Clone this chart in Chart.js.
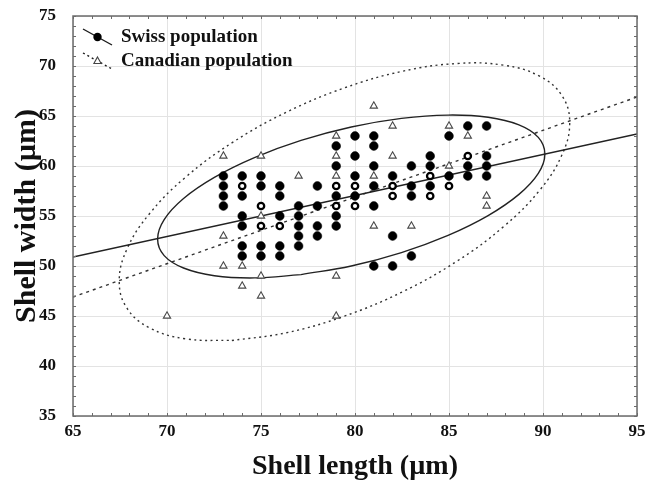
<!DOCTYPE html>
<html>
<head>
<meta charset="utf-8">
<script src="https://cdn.jsdelivr.net/npm/chart.js@4/dist/chart.umd.min.js"></script>
<style>
  html, body { margin: 0; padding: 0; background: #fff; }
  #wrap { width: 664px; height: 484px; }
</style>
</head>
<body>
<div id="wrap"><canvas id="shellChart" width="664" height="484"></canvas></div>
<script>
// Shell length (x) and shell width (y), in µm.
// Widths are grouped by length column.
const swissLengths = [73, 74, 75, 76, 77, 78, 79, 80, 81, 82, 83, 84, 85, 86, 87];
const swissWidths = [
    [59, 58, 57, 56],
    [59, 57, 55, 54, 52, 51],
    [59, 58, 52, 51],
    [58, 57, 55, 52, 51],
    [56, 55, 54, 53, 52],
    [58, 56, 54, 53],
    [62, 60, 57, 55, 54],
    [63, 61, 59, 57],
    [63, 62, 60, 58, 56, 50],
    [59, 53, 50],
    [60, 58, 57, 51],
    [61, 60, 58],
    [63, 59],
    [64, 60, 59],
    [64, 61, 60, 59]
];

const canadianLengths = [70, 73, 74, 75, 77, 79, 81, 82, 83, 85, 86, 87];
const canadianWidths = [
    [45],
    [61, 53, 50],
    [50, 48],
    [61, 55, 49, 47],
    [59],
    [63, 61, 59, 49, 45],
    [66, 59, 54],
    [64, 61],
    [54],
    [64, 60],
    [63],
    [57, 56]
];

// points where both populations coincide (drawn as open rings)
const sharedLengths = [74, 75, 76, 79, 80, 82, 84, 85, 86];
const sharedWidths = [[58], [56, 54], [54], [58, 56], [58, 56], [58, 57], [59, 57], [58], [61]];

// regression lines
const fitLengths = [65, 95];
const swissFitWidths = [50.9, 63.2];
const canadianFitWidths = [46.9, 66.9];

// outlines of the two ellipses as drawn on the figure (start on a flat stretch)
const swissEllipseX = [77.13, 79.8, 82.47, 84.95, 87.08, 88.72, 89.75, 90.1, 89.75, 88.72, 87.08, 84.95, 82.47,
    79.8, 77.13, 74.65, 72.52, 70.88, 69.85, 69.5, 69.85, 70.88, 72.52, 74.65, 77.13];
const swissEllipseY = [49.14, 50.0, 51.34, 53.06, 55.04, 57.16, 59.26, 61.2, 62.86, 64.11, 64.87, 65.09, 64.76,
    63.9, 62.56, 60.84, 58.86, 56.75, 54.64, 52.7, 51.04, 49.8, 49.03, 48.81, 49.14];
const canadianEllipseX = [73.45, 76.34, 79.44, 82.54, 85.43, 87.91, 89.82, 91.01, 91.42, 91.01, 89.82, 87.91, 85.43,
    82.54, 79.44, 76.34, 73.45, 70.97, 69.07, 67.87, 67.46, 67.87, 69.07, 70.97, 73.45];
const canadianEllipseY = [42.55, 43.32, 44.99, 47.43, 50.49, 53.95, 57.57, 61.12, 64.34, 67.03, 68.98, 70.08, 70.25,
    69.48, 67.81, 65.37, 62.31, 58.85, 55.23, 51.69, 48.46, 45.78, 43.82, 42.72, 42.55];

const xTicks = [65, 70, 75, 80, 85, 90, 95];
const yTicks = [35, 40, 45, 50, 55, 60, 65, 70, 75];

const serif = '"Liberation Serif", "Times New Roman", serif';
const ink = '#1a1a1a';

function columnPoints(lengths, widths) {
    const pts = [];
    lengths.forEach((x, i) => widths[i].forEach(y => pts.push({ x: x, y: y })));
    return pts;
}
function pairPoints(xs, ys) {
    return xs.map((x, i) => ({ x: x, y: ys[i] }));
}

// frame round the plot with small inward ticks every unit
const framePlugin = {
    id: 'frame',
    afterDatasetsDraw(chart) {
        const { ctx, chartArea: a, scales } = chart;
        ctx.save();
        ctx.strokeStyle = '#6b6b6b';
        ctx.lineWidth = 1.5;
        ctx.strokeRect(a.left, a.top, a.right - a.left, a.bottom - a.top);
        ctx.lineWidth = 1;
        ctx.beginPath();
        for (let v = scales.x.min; v <= scales.x.max; v++) {
            const px = Math.round(scales.x.getPixelForValue(v)) + 0.5;
            ctx.moveTo(px, a.bottom); ctx.lineTo(px, a.bottom - 3);
            ctx.moveTo(px, a.top); ctx.lineTo(px, a.top + 3);
        }
        for (let v = scales.y.min; v <= scales.y.max; v++) {
            const py = Math.round(scales.y.getPixelForValue(v)) + 0.5;
            ctx.moveTo(a.left, py); ctx.lineTo(a.left + 3, py);
            ctx.moveTo(a.right, py); ctx.lineTo(a.right - 3, py);
        }
        ctx.stroke();
        ctx.restore();
    }
};

// legend inside the plot, with slanted line samples like the original
const legendPlugin = {
    id: 'innerLegend',
    afterDraw(chart) {
        const { ctx, chartArea: a } = chart;
        const ds = chart.data.datasets;
        const rows = [
            { label: ds[0].label, dash: [], marker: 'circle', y: a.top + 21 },
            { label: ds[1].label, dash: [2, 3], marker: 'triangle', y: a.top + 45 }
        ];
        ctx.save();
        rows.forEach(r => {
            const x0 = a.left + 10, x1 = a.left + 39;
            ctx.strokeStyle = ink;
            ctx.lineWidth = 1.4;
            ctx.setLineDash(r.dash);
            ctx.beginPath();
            ctx.moveTo(x0, r.y - 8);
            ctx.lineTo(x1, r.y + 8);
            ctx.stroke();
            ctx.setLineDash([]);
            const mx = (x0 + x1) / 2, my = r.y;
            if (r.marker === 'circle') {
                ctx.fillStyle = '#000';
                ctx.beginPath();
                ctx.arc(mx, my, 4.2, 0, Math.PI * 2);
                ctx.fill();
            } else {
                ctx.fillStyle = '#fff';
                ctx.strokeStyle = '#444';
                ctx.lineWidth = 1.1;
                ctx.beginPath();
                ctx.moveTo(mx, my - 4);
                ctx.lineTo(mx + 3.6, my + 2.5);
                ctx.lineTo(mx - 3.6, my + 2.5);
                ctx.closePath();
                ctx.fill();
                ctx.stroke();
            }
            ctx.fillStyle = '#111';
            ctx.font = 'bold 19px ' + serif;
            ctx.textAlign = 'left';
            ctx.textBaseline = 'middle';
            ctx.fillText(r.label, a.left + 48, r.y);
        });
        ctx.restore();
    }
};

const ctx = document.getElementById('shellChart').getContext('2d');
new Chart(ctx, {
    type: 'scatter',
    data: {
        datasets: [
            {
                label: 'Swiss population',
                data: columnPoints(swissLengths, swissWidths),
                pointStyle: 'circle',
                pointRadius: 4.4,
                pointBackgroundColor: '#000',
                pointBorderColor: '#000',
                pointBorderWidth: 0.5,
                order: 0
            },
            {
                label: 'Canadian population',
                data: columnPoints(canadianLengths, canadianWidths),
                pointStyle: 'triangle',
                pointRadius: 4.2,
                pointBackgroundColor: '#fff',
                pointBorderColor: '#4a4a4a',
                pointBorderWidth: 1.1,
                order: 0
            },
            {
                label: 'both',
                data: columnPoints(sharedLengths, sharedWidths),
                pointStyle: 'circle',
                pointRadius: 3.2,
                pointBackgroundColor: '#fff',
                pointBorderColor: '#000',
                pointBorderWidth: 2.3,
                order: 0
            },
            {
                label: 'Swiss fit',
                data: pairPoints(fitLengths, swissFitWidths),
                showLine: true, pointRadius: 0,
                borderColor: '#222', borderWidth: 1.4,
                order: 1
            },
            {
                label: 'Canadian fit',
                data: pairPoints(fitLengths, canadianFitWidths),
                showLine: true, pointRadius: 0,
                borderColor: '#333', borderWidth: 1.4, borderDash: [3, 4],
                order: 1
            },
            {
                label: 'Swiss ellipse',
                data: pairPoints(swissEllipseX, swissEllipseY),
                showLine: true, pointRadius: 0, tension: 0.4,
                borderColor: '#222', borderWidth: 1.4,
                order: 1
            },
            {
                label: 'Canadian ellipse',
                data: pairPoints(canadianEllipseX, canadianEllipseY),
                showLine: true, pointRadius: 0, tension: 0.4,
                borderColor: '#333', borderWidth: 1.4, borderDash: [2, 3.5],
                order: 1
            }
        ]
    },
    options: {
        responsive: false,
        animation: false,
        devicePixelRatio: 1,
        layout: { padding: { top: 16, right: 27, left: 0, bottom: 0 } },
        plugins: {
            legend: { display: false },
            tooltip: { enabled: false }
        },
        scales: {
            x: {
                type: 'linear',
                min: 65, max: 95,
                afterBuildTicks: s => { s.ticks = xTicks.map(v => ({ value: v })); },
                afterFit: s => { s.height = 68; s.paddingLeft = 0; s.paddingRight = 0; },
                grid: { color: '#e3e3e3', lineWidth: 1, drawTicks: false },
                border: { display: false },
                ticks: {
                    padding: 5,
                    color: '#111',
                    font: { family: serif, size: 17, weight: 'bold' }
                },
                title: {
                    display: true,
                    text: 'Shell length (µm)',
                    color: '#111',
                    font: { family: serif, size: 28, weight: 'bold' },
                    padding: { top: 0, bottom: 0 }
                }
            },
            y: {
                type: 'linear',
                min: 35, max: 75,
                afterBuildTicks: s => { s.ticks = yTicks.map(v => ({ value: v })); },
                afterFit: s => { s.width = 73; s.paddingTop = 0; s.paddingBottom = 0; },
                grid: { color: '#e3e3e3', lineWidth: 1, drawTicks: false },
                border: { display: false },
                ticks: {
                    padding: 17,
                    color: '#111',
                    font: { family: serif, size: 17, weight: 'bold' }
                },
                title: {
                    display: true,
                    text: 'Shell width (µm)',
                    color: '#111',
                    font: { family: serif, size: 30, weight: 'bold' },
                    padding: { top: 9, bottom: 0 }
                }
            }
        }
    },
    plugins: [framePlugin, legendPlugin]
});
</script>
</body>
</html>
